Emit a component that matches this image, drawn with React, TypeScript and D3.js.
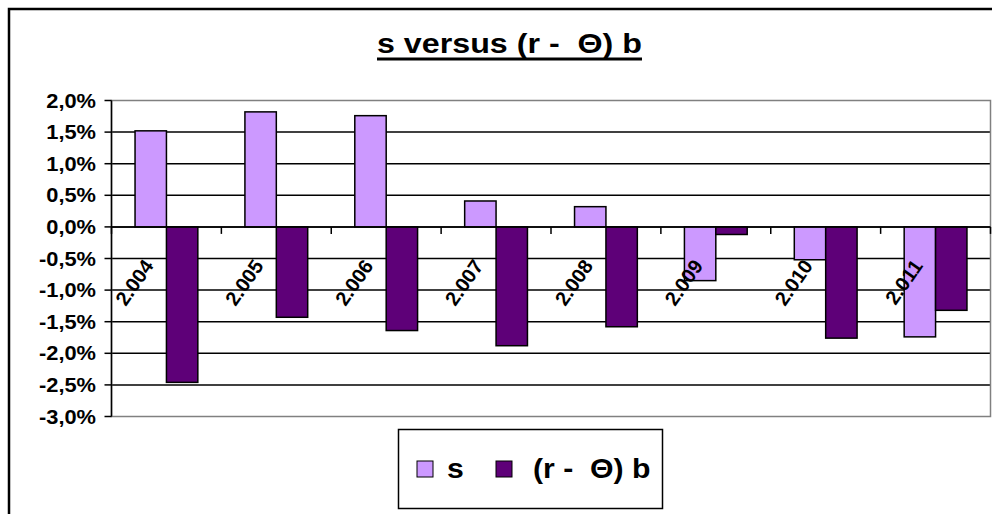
import { useRef, useEffect } from "react";
import * as d3 from "d3";

const years = ["2.004", "2.005", "2.006", "2.007", "2.008", "2.009", "2.010", "2.011"];
const sValues = [1.52, 1.82, 1.76, 0.41, 0.32, -0.85, -0.52, -1.74];
const rbValues = [-2.46, -1.43, -1.64, -1.88, -1.58, -0.12, -1.76, -1.32];
const yTicks = [2.0, 1.5, 1.0, 0.5, 0.0, -0.5, -1.0, -1.5, -2.0, -2.5, -3.0];
const seriesNames = ["s", "(r -  \u0398) b"];
const seriesColors = ["#CC99FF", "#5E0078"];

const FONT = "'Liberation Sans', Arial, sans-serif";

export default function App() {
  const svgRef = useRef<SVGSVGElement>(null);

  useEffect(() => {
    if (!svgRef.current) return;
    const svg = d3.select(svgRef.current);
    svg.selectAll("*").remove();

    const plot = { left: 111.5, right: 990.5, top: 100.5, bottom: 416.5 };

    const x = d3.scaleBand<string>().domain(years).range([plot.left, plot.right]).padding(0);
    const x1 = d3
      .scaleBand<string>()
      .domain(seriesNames)
      .range([0, x.bandwidth()])
      .paddingInner(0)
      .paddingOuter(0.75);
    const y = d3.scaleLinear().domain([-3, 2]).range([plot.bottom, plot.top]);
    const fmt = (v: number) => v.toFixed(1).replace(".", ",") + "%";

    // outer chart frame (cut off at right and bottom)
    svg
      .append("rect")
      .attr("x", 9)
      .attr("y", 9)
      .attr("width", 1100)
      .attr("height", 700)
      .attr("fill", "none")
      .attr("stroke", "#000")
      .attr("stroke-width", 2.5);

    // title
    svg
      .append("text")
      .attr("x", 377)
      .attr("y", 53)
      .attr("textLength", 265)
      .attr("lengthAdjust", "spacingAndGlyphs")
      .attr("font-family", FONT)
      .attr("font-weight", "bold")
      .attr("font-size", 27)
      .style("white-space", "pre")
      .text("s versus (r -  \u0398) b");
    svg
      .append("line")
      .attr("x1", 377)
      .attr("x2", 642)
      .attr("y1", 59)
      .attr("y2", 59)
      .attr("stroke", "#000")
      .attr("stroke-width", 3);

    // gridlines
    svg
      .append("g")
      .selectAll("line")
      .data(yTicks.filter((t) => t !== 2 && t !== -3))
      .join("line")
      .attr("x1", plot.left)
      .attr("x2", plot.right)
      .attr("y1", (d) => y(d))
      .attr("y2", (d) => y(d))
      .attr("stroke", "#000")
      .attr("stroke-width", 1.5);

    // plot area border
    svg
      .append("rect")
      .attr("x", plot.left)
      .attr("y", plot.top)
      .attr("width", plot.right - plot.left)
      .attr("height", plot.bottom - plot.top)
      .attr("fill", "none")
      .attr("stroke", "#808080")
      .attr("stroke-width", 1.5);

    // bars
    const groups = svg
      .append("g")
      .selectAll("g")
      .data(years)
      .join("g")
      .attr("transform", (d) => `translate(${x(d)},0)`);

    groups
      .selectAll("rect")
      .data((_, i) => [
        { key: seriesNames[0], v: sValues[i], c: seriesColors[0] },
        { key: seriesNames[1], v: rbValues[i], c: seriesColors[1] },
      ])
      .join("rect")
      .attr("x", (d) => x1(d.key)!)
      .attr("width", x1.bandwidth())
      .attr("y", (d) => Math.min(y(d.v), y(0)))
      .attr("height", (d) => Math.abs(y(d.v) - y(0)))
      .attr("fill", (d) => d.c)
      .attr("stroke", "#000")
      .attr("stroke-width", 1.5);

    // y axis
    const yAxis = svg.append("g");
    yAxis
      .append("line")
      .attr("x1", plot.left)
      .attr("x2", plot.left)
      .attr("y1", plot.top)
      .attr("y2", plot.bottom)
      .attr("stroke", "#000")
      .attr("stroke-width", 1.5);
    yAxis
      .selectAll(".tick")
      .data(yTicks)
      .join("line")
      .attr("x1", plot.left - 7)
      .attr("x2", plot.left)
      .attr("y1", (d) => y(d))
      .attr("y2", (d) => y(d))
      .attr("stroke", "#000")
      .attr("stroke-width", 1.5);
    yAxis
      .selectAll("text")
      .data(yTicks)
      .join("text")
      .attr("transform", (d) => `translate(96,${y(d) + 7}) scale(1.12,1)`)
      .attr("text-anchor", "end")
      .attr("font-family", FONT)
      .attr("font-weight", "bold")
      .attr("font-size", 19.5)
      .text((d) => fmt(d));

    // x axis at zero
    const xAxis = svg.append("g");
    xAxis
      .append("line")
      .attr("x1", plot.left)
      .attr("x2", plot.right)
      .attr("y1", y(0))
      .attr("y2", y(0))
      .attr("stroke", "#000")
      .attr("stroke-width", 1.5);
    xAxis
      .selectAll("line.tick")
      .data(d3.range(years.length + 1))
      .join("line")
      .attr("class", "tick")
      .attr("x1", (i) => plot.left + i * x.bandwidth())
      .attr("x2", (i) => plot.left + i * x.bandwidth())
      .attr("y1", y(0))
      .attr("y2", y(0) + 7)
      .attr("stroke", "#000")
      .attr("stroke-width", 1.5);
    xAxis
      .selectAll("text")
      .data(years)
      .join("text")
      .attr(
        "transform",
        (d) => `translate(${x(d)! + x.bandwidth() / 2 - 12},266) rotate(-55)`
      )
      .attr("text-anchor", "end")
      .attr("font-family", FONT)
      .attr("font-weight", "bold")
      .attr("font-size", 20)
      .text((d) => d);

    // legend
    const legend = svg.append("g");
    legend
      .append("rect")
      .attr("x", 398.5)
      .attr("y", 429.5)
      .attr("width", 264)
      .attr("height", 79)
      .attr("fill", "#fff")
      .attr("stroke", "#000")
      .attr("stroke-width", 1.5);
    const legendItems = [
      { sx: 417, tx: 447 },
      { sx: 496, tx: 533 },
    ];
    legend
      .selectAll("rect.key")
      .data(seriesNames)
      .join("rect")
      .attr("class", "key")
      .attr("x", (_, i) => legendItems[i].sx)
      .attr("y", 461)
      .attr("width", 16)
      .attr("height", 16)
      .attr("fill", (_, i) => seriesColors[i])
      .attr("stroke", "#000")
      .attr("stroke-width", 1);
    legend
      .selectAll("text")
      .data(seriesNames)
      .join("text")
      .attr("transform", (_, i) => `translate(${legendItems[i].tx},478) scale(1.12,1)`)
      .attr("font-family", FONT)
      .attr("font-weight", "bold")
      .attr("font-size", 27)
      .style("white-space", "pre")
      .text((d) => d);
  }, []);

  return (
    <svg
      ref={svgRef}
      width={992}
      height={514}
      style={{ position: "absolute", left: 0, top: 0, background: "#fff" }}
      role="img"
      aria-label="s versus (r - Θ) b bar chart"
    />
  );
}
